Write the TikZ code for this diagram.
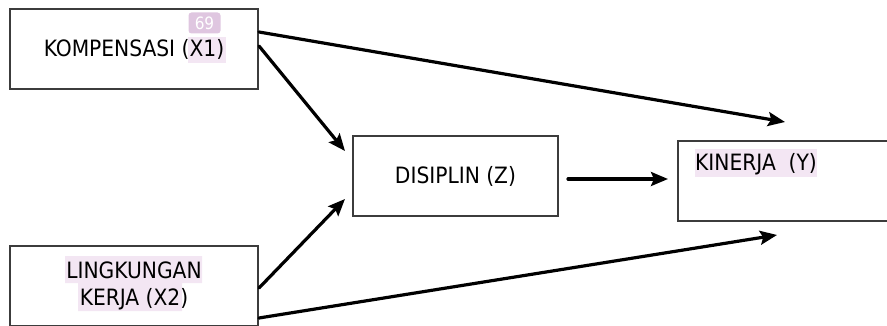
\documentclass[tikz,border=0pt]{standalone}
\usepackage{fontspec}
\setmainfont{DejaVu Sans Condensed}
\usetikzlibrary{arrows.meta,positioning}
\definecolor{boxgray}{HTML}{3C3C3C}
\definecolor{hlpink}{HTML}{F3E6F3}
\definecolor{badgepink}{HTML}{DFC6E0}
\tikzset{
  varbox/.style={draw=boxgray, line width=2pt, minimum width=248pt, minimum height=80pt, inner sep=0pt, align=center, font=\fontsize{22.5}{27}\selectfont, text=black},
  lbl/.style={inner sep=0pt, font=\fontsize{22.5}{27}\selectfont, text=black},
  link/.style={-{Stealth[length=17pt,width=14pt,inset=3pt]}, line width=3.2pt, line cap=round},
  hl/.style={fill=hlpink, draw=none},
  badge/.style={fill=badgepink, rounded corners=3pt, minimum width=32pt, minimum height=21pt, inner sep=0pt, text=white, font=\fontsize{17}{17}\selectfont}
}
\begin{document}
\begin{tikzpicture}[x=1pt, y=-1pt, >=Stealth]
	\clip (0,0) rectangle (887,326);
	% highlights
	\fill[hl] (188,37) rectangle (226,63);
	\fill[hl] (65,256) rectangle (202,283) (78,283) rectangle (182,311);
	\fill[hl] (695,149) rectangle (817,177);
	\node[badge] (n69) at (204.5,23) {69};
	% variables
	\node[varbox] (komp) at (134,49) {KOMPENSASI (X1)};
	\node[varbox] (ling) at (134,286) {LINGKUNGAN\\KERJA (X2)};
	\node[varbox, minimum width=205pt] (dis) at (455.5,176) {DISIPLIN (Z)};
	\node[varbox, minimum width=220pt, anchor=north west] (kin) at (677,140) {};
	\node[lbl, anchor=west] (kint) at (695,164) {KINERJA\ \ (Y)};
	\coordinate (yTop) at (785,122);
	\coordinate (yBot) at (777,235);
	% paths
	\draw[link] ([yshift=-24pt]komp.north east) -- (yTop);
	\draw[link] ([yshift=-38pt]komp.north east) -- ([shift={(-7pt,-16pt)}]dis.north west);
	\draw[link] ([yshift=-43pt]ling.north east) -- ([shift={(-7pt,18pt)}]dis.south west);
	\draw[link] ([yshift=-73pt]ling.north east) -- (yBot);
	\draw[link, shorten <=9pt, shorten >=9pt] ([yshift=-3pt]dis.east) -- ([yshift=-3pt]dis.east -| kin.west);
\end{tikzpicture}
\end{document}
